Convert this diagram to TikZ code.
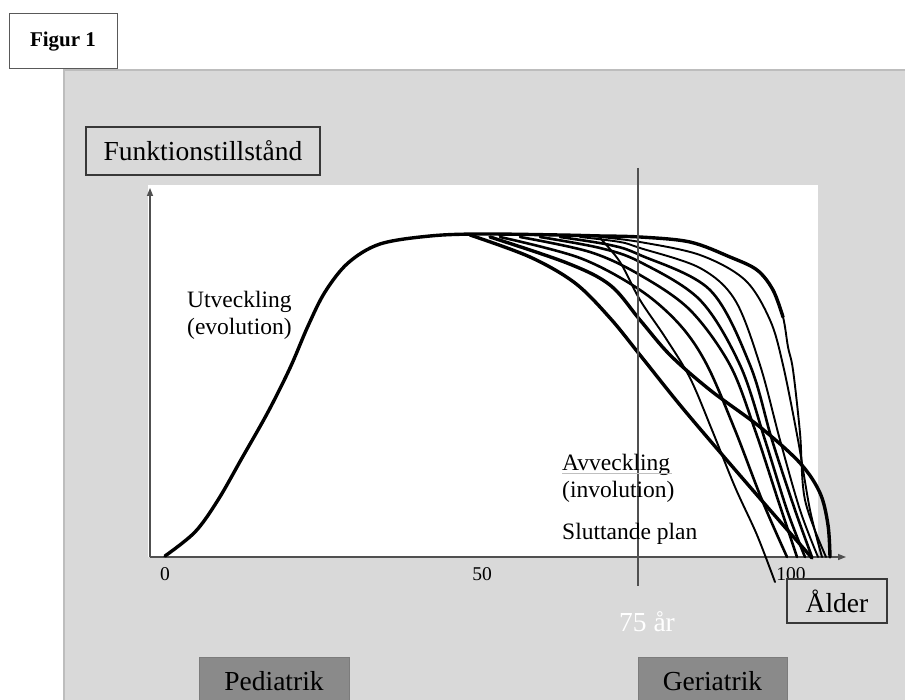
\documentclass[tikz,border=0pt]{standalone}
\usepackage{fontspec}
\setmainfont{Liberation Serif}
\usetikzlibrary{arrows.meta}
\definecolor{panel}{HTML}{D9D9D9}
\definecolor{panelline}{HTML}{BDBDBD}
\definecolor{boxdark}{HTML}{8A8A8A}
\definecolor{axisgray}{HTML}{505050}
\begin{document}
\begin{tikzpicture}[x=1pt,y=-1pt,
  bigtext/.style={font=\fontsize{27.5}{30}\selectfont},
  smalltext/.style={font=\fontsize{23.5}{28}\selectfont},
  ticktext/.style={font=\fontsize{19.5}{22}\selectfont},
  framebox/.style={draw=black!78, line width=1.8pt, fill=panel, inner sep=0pt, bigtext},
  darkbox/.style={fill=boxdark, draw=boxdark!90!black, line width=0.6pt, inner sep=0pt, bigtext, minimum height=48pt},
  axisline/.style={draw=axisgray, line width=1.4pt, -{Triangle[length=8pt,width=6pt]}},
  curvethick/.style={line width=3.4pt, line cap=round, line join=round},
  curvemid/.style={line width=2.6pt, line cap=round, line join=round},
  curvethin/.style={line width=1.9pt, line cap=round, line join=round}
]
\useasboundingbox (0,0) rectangle (905,700);
\fill[white] (0,0) rectangle (905,700);
% panel
\fill[panel] (64,70) rectangle (905,700);
\draw[panelline, line width=1.6pt] (905,70) -- (64,70) -- (64,700);
% figure label
\node[draw=black!65, line width=1pt, fill=white, minimum width=108pt, minimum height=55pt, inner sep=0pt,
      font=\fontsize{21}{24}\selectfont\bfseries] (fig) at (63,41.5) {Figur 1};
% plot area
\fill[white] (148,185) rectangle (818,557);
% y label box
\node[framebox, minimum width=234pt, minimum height=48pt] (ylab) at (203,151) {Funktionstillstånd};
% axes
\coordinate (O) at (150,557);
\coordinate (ytip) at (150,188);
\coordinate (xtip) at (846,557);
\draw[axisline] (O) -- (ytip);
\draw[axisline] (O) -- (xtip);
% ticks
\node[ticktext, anchor=base] (t0) at (165,580) {0};
\node[ticktext, anchor=base] (t50) at (482,580) {50};
\node[ticktext, anchor=base] (t100) at (791,580) {100};
% rising curve
\draw[curvethick] plot[smooth, tension=0.55] coordinates {(165,556) (195,532) (218,500) (242,458) (268,412) (290,368) (308,326) (325,292) (348,263) (380,244) (430,236) (480,234) (560,235) (600,236)};
% a
\draw[curvethick] plot[smooth, tension=0.55] coordinates {(470,235) (530,257) (575,283) (610,318) (640,355) (680,405) (725,458) (770,510) (812,558)};
% b
\draw[curvethick] plot[smooth, tension=0.55] coordinates {(490,237) (567,263) (610,285) (640,320) (670,355) (710,390) (760,427) (800,463) (820,493) (828,525) (830,557)};
% c
\draw[curvethin] plot[smooth, tension=0.55] coordinates {(600,238) (620,262) (640,300) (665,337) (690,378) (712,430) (735,487) (757,535) (775,582)};
% d..j
\draw[curvemid] plot[smooth, tension=0.55] coordinates {(500,237) (580,258) (640,290) (680,325) (707,365) (735,430) (762,500) (787,557)};
\draw[curvemid] plot[smooth, tension=0.55] coordinates {(520,237) (590,252) (640,275) (690,310) (730,365) (755,430) (778,500) (797,557)};
\draw[curvemid] plot[smooth, tension=0.55] coordinates {(540,237) (600,248) (640,262) (700,300) (740,365) (765,440) (787,510) (805,557)};
\draw[curvemid] plot[smooth, tension=0.55] coordinates {(560,237) (610,245) (640,255) (710,290) (750,365) (772,440) (795,510) (812,557)};
\draw[curvethin] plot[smooth, tension=0.55] coordinates {(580,237) (620,242) (640,248) (700,268) (735,300) (760,365) (780,440) (800,510) (818,557)};
\draw[curvethin] plot[smooth, tension=0.55] coordinates {(600,237) (640,242) (700,255) (745,280) (770,320) (783,365) (798,440) (810,510) (822,557)};
\draw[curvethin] plot[smooth, tension=0.55] coordinates {(600,236) (640,237) (690,242) (730,257) (757,270) (773,290) (783,317) (788,347) (793,370) (800,433) (805,500) (826,557)};
\draw[curvethick] plot[smooth, tension=0.55] coordinates {(598,236) (640,237) (690,242) (730,257) (757,270) (773,290) (783,317)};
% vertical 75 line
\coordinate (v1) at (638,168);
\coordinate (v2) at (638,586);
\draw[axisgray, line width=1.2pt] (v1) -- (v2);
% labels
\node[smalltext, anchor=base west, inner sep=0pt] (utv1) at (187,308) {Utveckling};
\node[smalltext, anchor=base west, inner sep=0pt] (utv2) at (187,335) {(evolution)};
\node[smalltext, anchor=base west, inner sep=0pt] (avv1) at (562,470) {Avveckling};
\draw[black!25, line width=1pt] (avv1.base west) ++(0,3) -- ++(110,0);
\node[smalltext, anchor=base west, inner sep=0pt] (avv2) at (562,497) {(involution)};
\node[smalltext, anchor=base west, inner sep=0pt] (slut) at (562,539) {Sluttande plan};
\node[bigtext, text=white, anchor=base] (age75) at (647,631) {75 år};
\node[framebox, minimum width=100pt, minimum height=44pt] (alder) at (837,601) {Ålder};
\node[darkbox, minimum width=150pt, anchor=north] (ped) at (274,657) {Pediatrik};
\node[darkbox, minimum width=149pt, anchor=north] (ger) at (712.5,657) {Geriatrik};
\end{tikzpicture}
\end{document}
